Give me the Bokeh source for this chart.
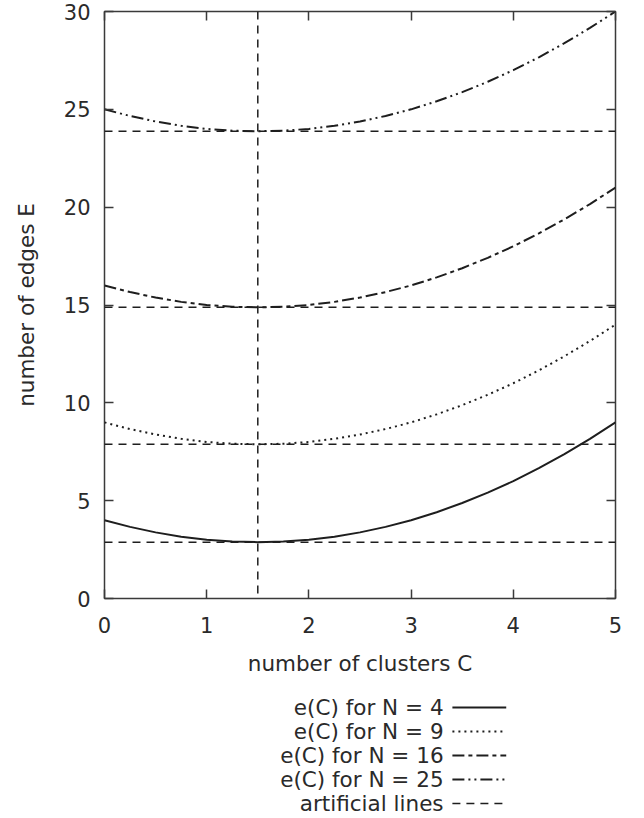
from bokeh.plotting import figure
from bokeh.models import Range1d, LinearAxis, FixedTicker, Span, CustomJSTickFormatter
from bokeh.layouts import column
from bokeh.embed import file_html
from bokeh.resources import INLINE
from bokeh.core.properties import value

# ---------------- data ----------------
C = [0.0, 0.25, 0.5, 0.75, 1.0, 1.25, 1.5, 1.75, 2.0, 2.25, 2.5,
     2.75, 3.0, 3.25, 3.5, 3.75, 4.0, 4.25, 4.5, 4.75, 5.0]
E_N4 = [4.0, 3.66, 3.38, 3.16, 3.0, 2.91, 2.88, 2.91, 3.0, 3.16, 3.38,
        3.66, 4.0, 4.41, 4.88, 5.41, 6.0, 6.66, 7.38, 8.16, 9.0]
E_N9 = [9.0, 8.66, 8.38, 8.16, 8.0, 7.91, 7.88, 7.91, 8.0, 8.16, 8.38,
        8.66, 9.0, 9.41, 9.88, 10.41, 11.0, 11.66, 12.38, 13.16, 14.0]
E_N16 = [16.0, 15.66, 15.38, 15.16, 15.0, 14.91, 14.88, 14.91, 15.0, 15.16, 15.38,
         15.66, 16.0, 16.41, 16.88, 17.41, 18.0, 18.66, 19.38, 20.16, 21.0]
E_N25 = [25.0, 24.66, 24.38, 24.16, 24.0, 23.91, 23.88, 23.91, 24.0, 24.16, 24.38,
         24.66, 25.0, 25.41, 25.88, 26.41, 27.0, 27.66, 28.38, 29.16, 30.0]
ARTIFICIAL_LEVELS = [2.88, 7.88, 14.88, 23.88]
C_MIN = 1.5
X_TICKS = [0, 1, 2, 3, 4, 5]
Y_TICKS = [0, 5, 10, 15, 20, 25, 30]
LEGEND_LABELS = ["e(C) for N = 4", "e(C) for N = 9", "e(C) for N = 16",
                 "e(C) for N = 25", "artificial lines"]

# ---------------- styles ----------------
FONT = "DejaVu Sans"
INK = "#1e1e1e"
TEXT = "#2a2a2a"
FRAME = "#3a3a3a"
TICK_FS = "21px"
LABEL_FS = "21.5px"
DASHES = ["solid", "2 4", "12 4 4 4", "12 4 2 4 2 4"]
ART_DASH = "8 6"
CURVE_W = 2
ART_W = 1.5

p = figure(width=636, height=690, x_range=Range1d(0, 5), y_range=Range1d(0, 30),
           output_backend="svg", toolbar_location=None,
           min_border_left=104, min_border_right=21, min_border_top=11,
           min_border_bottom=92)
p.grid.visible = False
p.outline_line_color = FRAME
p.outline_line_width = 1.5
p.background_fill_color = "white"
p.border_fill_color = "white"


def style_axis(ax, ticks, labels=True):
    ax.ticker = FixedTicker(ticks=ticks)
    ax.major_tick_in = 9
    ax.major_tick_out = 0
    ax.minor_tick_in = 0
    ax.minor_tick_out = 0
    ax.major_tick_line_color = FRAME
    ax.major_tick_line_width = 1.5
    ax.axis_line_color = None
    if labels:
        ax.major_label_text_font = FONT
        ax.major_label_text_font_size = TICK_FS
        ax.major_label_text_color = TEXT
        ax.axis_label_text_font = FONT
        ax.axis_label_text_font_size = LABEL_FS
        ax.axis_label_text_font_style = "normal"
        ax.axis_label_text_color = TEXT
    else:
        ax.formatter = CustomJSTickFormatter(code="return ''")
        ax.major_label_text_font_size = "1px"
        ax.major_label_standoff = 0


xa = p.below[0]
ya = p.left[0]
style_axis(xa, X_TICKS)
style_axis(ya, Y_TICKS)
xa.axis_label = "number of clusters C"
ya.axis_label = "number of edges E"
xa.major_label_standoff = 18
ya.major_label_standoff = 14
xa.axis_label_standoff = 15
ya.axis_label_standoff = 22

top = LinearAxis()
style_axis(top, X_TICKS, labels=False)
right = LinearAxis()
style_axis(right, Y_TICKS, labels=False)
p.add_layout(top, "above")
p.add_layout(right, "right")

for lvl in ARTIFICIAL_LEVELS:
    p.add_layout(Span(location=lvl, dimension="width", line_color=INK,
                      line_dash=ART_DASH, line_width=ART_W))
p.add_layout(Span(location=C_MIN, dimension="height", line_color=INK,
                  line_dash=ART_DASH, line_width=ART_W))

for ys, dash in zip([E_N4, E_N9, E_N16, E_N25], DASHES):
    p.line(C, ys, line_color=INK, line_width=CURVE_W, line_dash=dash)

# ---------------- legend (gnuplot style: text then sample) ----------------
LEG_W, LEG_H = 636, 126
leg = figure(width=LEG_W, height=LEG_H, x_range=Range1d(0, LEG_W), y_range=Range1d(LEG_H, 0),
             output_backend="svg", toolbar_location=None, min_border=0,
             x_axis_type=None, y_axis_type=None)
leg.grid.visible = False
leg.outline_line_color = None
ROW0, ROW_STEP = 17, 24
TEXT_RIGHT, S0, S1 = 422, 433, 500
rows = [ROW0 + i * ROW_STEP for i in range(len(LEGEND_LABELS))]
leg.text(x=[TEXT_RIGHT] * len(rows), y=rows, text=LEGEND_LABELS,
         text_align="right", text_baseline="middle", text_font=value(FONT),
         text_font_size=LABEL_FS, text_color=TEXT)
for r, dash, w in zip(rows, DASHES + [ART_DASH], [CURVE_W] * 4 + [ART_W]):
    leg.line([S0, S1], [r, r], line_color=INK, line_width=w, line_dash=dash)

layout = column(p, leg)
open("out.html", "w").write(file_html(layout, INLINE))
